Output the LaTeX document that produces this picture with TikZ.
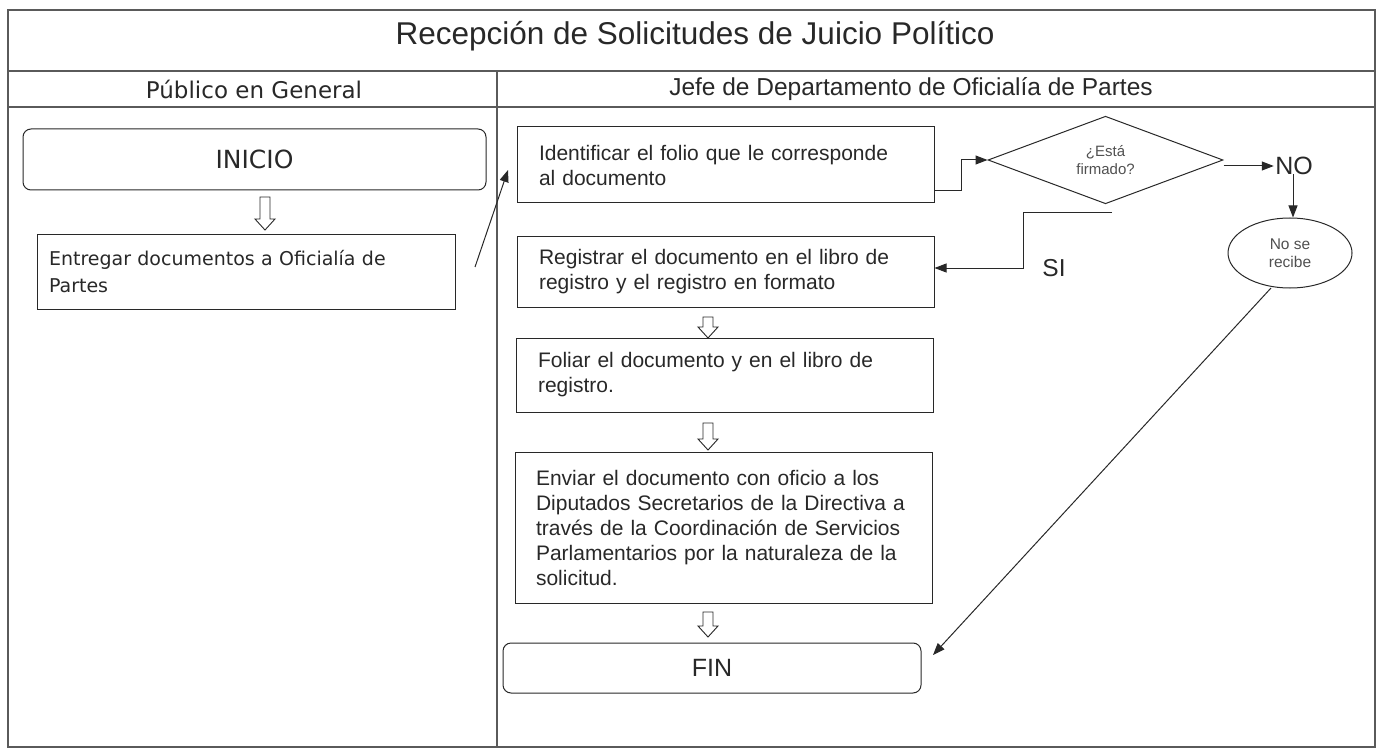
\documentclass[tikz,border=0pt]{standalone}
\usepackage{fontspec}
\setmainfont{Liberation Sans}
\newfontfamily\leftfont{DejaVu Sans}
\usetikzlibrary{shapes.geometric,arrows.meta,calc}
\definecolor{ink}{RGB}{40,40,40}
\definecolor{soft}{RGB}{80,80,80}
\definecolor{frame}{RGB}{90,90,90}
\begin{document}
\begin{tikzpicture}[x=1pt,y=-1pt,line width=1pt,draw=ink,text=ink,
  body/.style={font=\fontsize{21}{25}\selectfont},
  stepbox/.style={draw,rectangle,body,align=left,inner xsep=22pt,inner ysep=0pt},
  termbox/.style={draw,rectangle,rounded corners=8pt,inner sep=0pt},
  conn/.style={draw=ink,line width=1pt,-{Triangle[length=12pt,width=9pt]}},
  pics/harrow/.style={code={
    \draw[ink,line width=0.9pt,fill=white] (-5,0) -- (5,0) -- (5,#1-11) -- (10,#1-11) -- (0,#1) -- (-10,#1-11) -- (-5,#1-11) -- cycle;}}
]
\useasboundingbox (0,0) rectangle (1380,751);
% frame and lanes
\draw[frame,line width=1.1pt] (8,10) rectangle (1375,747);
\draw[frame,line width=1.1pt] (8,71) -- (1375,71);
\draw[frame,line width=1.1pt] (8,107) -- (1375,107);
\draw[frame,line width=1.1pt] (497,71) -- (497,747);
\node[font=\fontsize{31.5}{36}\selectfont] (title) at (695,36) {Recepción de Solicitudes de Juicio Político};
\node[font=\leftfont\fontsize{23}{26}\selectfont] (lane1) at (254,89) {Público en General};
\node[font=\fontsize{24.5}{28}\selectfont] (lane2) at (911,89) {Jefe de Departamento de Oficialía de Partes};
% nodes
\node[termbox,font=\leftfont\fontsize{25}{28}\selectfont,minimum width=463pt,minimum height=61pt] (inicio) at (254.5,159.5) {INICIO};
\node[stepbox,font=\leftfont\fontsize{19}{27}\selectfont,inner xsep=12pt,minimum width=418pt,text width=394pt,minimum height=74pt] (entregar) at (246,272) {Entregar documentos a Oficialía de\\Partes};
\node[stepbox,minimum width=417pt,text width=373pt,minimum height=76pt] (ident) at (725.5,165) {Identificar el folio que le corresponde\\al documento};
\node[stepbox,minimum width=417pt,text width=373pt,minimum height=70pt] (registrar) at (725.5,272) {Registrar el documento en el libro de\\registro y el registro en formato};
\node[stepbox,minimum width=417pt,text width=373pt,minimum height=74pt] (foliar) at (724.5,375) {Foliar el documento y en el libro de\\registro.};
\node[stepbox,minimum width=417pt,text width=375pt,minimum height=151pt,inner xsep=21pt] (enviar) at (723.5,527.5) {Enviar el documento con oficio a los\\Diputados Secretarios de la Directiva a\\través de la Coordinación de Servicios\\Parlamentarios por la naturaleza de la\\solicitud.};
\node[termbox,font=\fontsize{25}{28}\selectfont,minimum width=418pt,minimum height=50pt] (fin) at (712,668) {FIN};
\node[draw,diamond,minimum width=235pt,minimum height=87pt,inner sep=0pt,align=center,text=soft,font=\fontsize{15}{18}\selectfont] (dec) at (1105.5,160) {¿Está\\firmado?};
\node[font=\fontsize{25}{28}\selectfont,inner sep=1pt] (no) at (1294,166) {NO};
\node[draw,ellipse,minimum width=124pt,minimum height=70pt,inner sep=0pt,align=center,text=soft,font=\fontsize{15.5}{17.5}\selectfont] (norec) at (1290,253) {No se\\recibe};
\node[font=\fontsize{24.5}{28}\selectfont] (si) at (1054,268) {SI};
% hollow arrows
\pic at (265,197) {harrow=33};
\pic at (708,317) {harrow=21};
\pic at (708,423) {harrow=27};
\pic at (708,612) {harrow=25};
% connectors
\coordinate (e1) at (475,267);
\coordinate (e2) at (508,170);
\draw[conn] (e1) -- (e2);
\draw[conn] (ident.east |- 0,191) -- (961,191) -- (961,160) -- (dec.west);
\draw[conn] (dec.east |- 0,166) -- (no.west);
\draw[conn] (no.south -| 1293,0) ++(0,-2) -- (norec.north -| 1293,0);
\coordinate (s1) at (1112,213);
\draw[conn] (s1) -- (1023,213) -- (1023,268) -- (registrar.east |- 0,268);
\coordinate (f1) at (1271,288);
\draw[conn] (f1) -- (933,655);
\end{tikzpicture}
\end{document}
